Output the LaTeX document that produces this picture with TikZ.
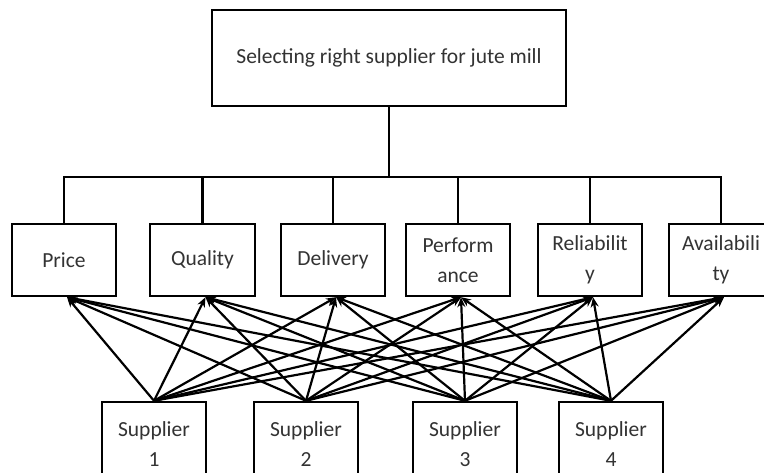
\documentclass[tikz,border=0pt]{standalone}
\usepackage{fontspec}
\setmainfont{Carlito}
\usetikzlibrary{arrows.meta}
\begin{document}
\begin{tikzpicture}[x=1pt,y=-1pt,
  box/.style={draw=black,line width=2.4pt,align=center,inner sep=0pt,
    font=\fontsize{21.5}{30}\selectfont,text=black!80},
  crit/.style={box,minimum width=104pt,minimum height=72pt},
  supp/.style={box,minimum width=104pt,minimum height=84pt},
  link/.style={line width=2.4pt},
  arr/.style={line width=2.2pt,-{Stealth[length=10pt,width=8pt]}}]
\useasboundingbox (0,0) rectangle (764,473);
\fill[white] (0,0) rectangle (764,473);
\node[box,minimum width=354pt,minimum height=96pt] (goal) at (389,58) {Selecting right supplier for jute mill};
\node[crit] (c1) at (64,260) {Price};
\node[crit,minimum width=105pt] (c2) at (202.5,260) {Quality};
\node[crit] (c3) at (333,260) {Delivery};
\node[crit] (c4) at (458,260) {Perform\\ance};
\node[crit] (c5) at (590,260) {Reliabilit\\y};
\node[crit] (c6) at (721,260) {Availabili\\ty};
\node[supp] (s1) at (154,444) {Supplier\\1};
\node[supp] (s2) at (306,444) {Supplier\\2};
\node[supp] (s3) at (465,444) {Supplier\\3};
\node[supp] (s4) at (611,444) {Supplier\\4};
\coordinate (bus) at (389,177);
\draw[link] (goal.south) -- (bus);
\draw[link,line cap=rect] (c1.north) |- (bus) -| (c6.north);
\foreach \c in {c2,c3,c4,c5}{\draw[link] (\c.north) -- (\c.north |- bus);}
\foreach \s in {s1,s2,s3,s4}{
  \foreach \c in {c1,c2,c3,c4,c5,c6}{
    \draw[arr] (\s.north) -- ([xshift=3pt]\c.south);
  }
}
\end{tikzpicture}
\end{document}
